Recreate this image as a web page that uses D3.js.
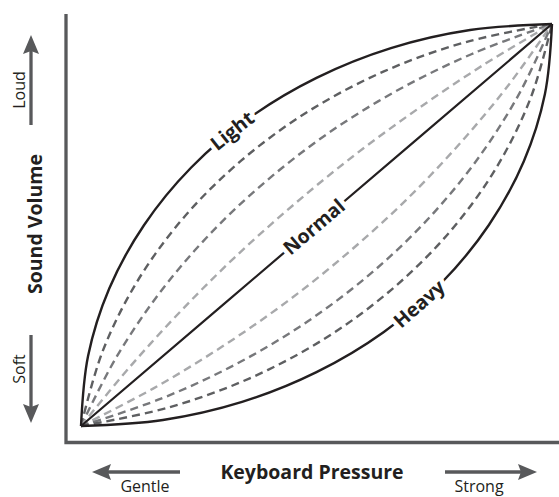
<!DOCTYPE html>
<html>
<head>
<meta charset="utf-8">
<script src="https://cdn.jsdelivr.net/npm/d3@7"></script>
<style>
  body { margin: 0; background: #fff; }
  svg { display: block; }
  text { font-family: "Open Sans", sans-serif; }
</style>
</head>
<body>
<div></div>
<script>
// curve points, both axes run 0..100
var light  = [[0,0],[1.5,17.4],[6.0,34.2],[13.4,50],[23.4,64.3],[35.7,76.6],[50,86.6],[65.8,94.0],[82.6,98.5],[100,100]];
var up1    = [[0,0],[4.5,18.3],[11.8,35.7],[21.7,51.7],[34.0,66.0],[48.3,78.3],[64.3,88.2],[81.7,95.5],[100,100]];
var up2    = [[0,0],[7.3,16.7],[16.3,32.5],[27.0,47.3],[39.2,60.8],[52.7,73.0],[67.5,83.7],[83.3,92.7],[100,100]];
var up3    = [[0,0],[10.3,14.6],[21.2,28.6],[32.6,41.9],[45.1,55.0],[58.1,67.4],[71.4,78.8],[85.4,89.8],[100,100]];
var normal = [[0,0],[50,50],[100,100]];
var lo3    = [[0,0],[15.3,9.3],[29.9,19.7],[43.8,31.0],[56.8,43.2],[69.0,56.2],[80.3,70.1],[90.7,84.7],[100,100]];
var lo2    = [[0,0],[17.0,6.8],[33.1,15.5],[48.1,26.0],[61.8,38.2],[74.0,51.9],[84.5,66.9],[93.2,83.0],[100,100]];
var lo1    = [[0,0],[18.3,4.5],[35.7,11.8],[51.7,21.7],[66.0,34.0],[78.3,48.3],[88.2,64.3],[95.5,81.7],[100,100]];
var heavy  = [[0,0],[17.4,1.5],[34.2,6.0],[50,13.4],[64.3,23.4],[76.6,35.7],[86.6,50],[94.0,65.8],[98.5,82.6],[100,100]];

var curveNames  = ["Light", "up1", "up2", "up3", "Normal", "lo3", "lo2", "lo1", "Heavy"];
var curvePoints = [light, up1, up2, up3, normal, lo3, lo2, lo1, heavy];
var labelNames  = ["Light", "Normal", "Heavy"];
var xTitle = "Keyboard Pressure", yTitle = "Sound Volume";
var xEnds = ["Gentle", "Strong"], yEnds = ["Loud", "Soft"];

// look of each curve
var black = "#231f20", grey = "#58595b";
var style = {
  Light:  {color: black,     dash: null,  w: 2.4},
  up1:    {color: "#5e5f61", dash: "8,5", w: 2.4},
  up2:    {color: "#77787b", dash: "8,5", w: 2.4},
  up3:    {color: "#a8a9ab", dash: "8,5", w: 2.4},
  Normal: {color: black,     dash: null,  w: 2.2},
  lo3:    {color: "#a8a9ab", dash: "8,5", w: 2.4},
  lo2:    {color: "#77787b", dash: "8,5", w: 2.4},
  lo1:    {color: "#5e5f61", dash: "8,5", w: 2.4},
  Heavy:  {color: black,     dash: null,  w: 2.4}
};
// where along each labelled curve its word sits
var labelAt = {Light: 0.5, Normal: 0.495, Heavy: 0.535};

var width = 559, height = 497;

var x = d3.scaleLinear().domain([0, 100]).range([81, 552]);
var y = d3.scaleLinear().domain([0, 100]).range([426, 24]);

var svg = d3.select("body").select("div").append("svg")
    .attr("width", width)
    .attr("height", height);

// axes frame
svg.append("path")
    .attr("d", "M66,14V442.5H559")
    .attr("fill", "none")
    .attr("stroke", grey)
    .attr("stroke-width", 3.3);

var line = d3.line()
    .x(function(d) { return x(d[0]); })
    .y(function(d) { return y(d[1]); })
    .curve(d3.curveCatmullRom.alpha(0.5));

var series = curveNames.map(function(n, i) { return {name: n, pts: curvePoints[i]}; });
// dashed ones underneath, solid on top
series.sort(function(a, b) { return (style[a.name].dash ? 0 : 1) - (style[b.name].dash ? 0 : 1); });

var paths = svg.selectAll("path.curve")
    .data(series)
    .enter().append("path")
    .attr("class", "curve")
    .attr("fill", "none")
    .attr("stroke", function(d) { return style[d.name].color; })
    .attr("stroke-width", function(d) { return style[d.name].w; })
    .attr("stroke-dasharray", function(d) { return style[d.name].dash; })
    .attr("d", function(d) { return line(d.pts); });

// labels sit on their curve, rotated along it
labelNames.forEach(function(name) {
    var node = paths.filter(function(d) { return d.name == name; }).node();
    var L = node.getTotalLength();
    var at = labelAt[name];
    var p = node.getPointAtLength(L * at),
        p1 = node.getPointAtLength(L * at - 2),
        p2 = node.getPointAtLength(L * at + 2);
    var ang = Math.atan2(p2.y - p1.y, p2.x - p1.x) * 180 / Math.PI;
    svg.append("text")
        .attr("transform", "translate(" + p.x + "," + p.y + ") rotate(" + ang + ")")
        .attr("dy", "0.35em")
        .attr("text-anchor", "middle")
        .style("font-size", "19.5px")
        .style("font-weight", 700)
        .style("fill", black)
        .style("stroke", "#fff")
        .style("stroke-width", 9)
        .style("stroke-linejoin", "round")
        .style("paint-order", "stroke")
        .text(name);
});

// arrows
function arrow(x1, y1, x2, y2) {
    var a = Math.atan2(y2 - y1, x2 - x1), hl = 19, hw = 8;
    var bx = x2 - hl * Math.cos(a), by = y2 - hl * Math.sin(a);
    svg.append("line")
        .attr("x1", x1).attr("y1", y1)
        .attr("x2", bx + 3 * Math.cos(a)).attr("y2", by + 3 * Math.sin(a))
        .attr("stroke", grey)
        .attr("stroke-width", 3.3);
    var nx = -Math.sin(a), ny = Math.cos(a);
    svg.append("path")
        .attr("d", "M" + x2 + "," + y2 +
                   "L" + (bx + hw * nx) + "," + (by + hw * ny) +
                   "L" + (bx + 3 * Math.cos(a)) + "," + (by + 3 * Math.sin(a)) +
                   "L" + (bx - hw * nx) + "," + (by - hw * ny) + "Z")
        .attr("fill", grey);
}
arrow(31, 125, 31, 35);
arrow(31, 335, 31, 423);
arrow(180, 472, 92, 472);
arrow(445, 472, 537, 472);

// axis words
svg.append("text")
    .attr("transform", "translate(25,90) rotate(-90)")
    .attr("text-anchor", "middle")
    .style("font-size", "16px")
    .style("fill", black)
    .text(yEnds[0]);
svg.append("text")
    .attr("transform", "translate(25,369) rotate(-90)")
    .attr("text-anchor", "middle")
    .style("font-size", "16px")
    .style("fill", black)
    .text(yEnds[1]);
svg.append("text")
    .attr("transform", "translate(42,224) rotate(-90)")
    .attr("text-anchor", "middle")
    .style("font-size", "19.5px")
    .style("font-weight", 700)
    .style("fill", black)
    .text(yTitle);

svg.append("text")
    .attr("x", 312).attr("y", 479)
    .attr("text-anchor", "middle")
    .style("font-size", "19.5px")
    .style("font-weight", 700)
    .style("fill", black)
    .text(xTitle);
svg.append("text")
    .attr("x", 145).attr("y", 492)
    .attr("text-anchor", "middle")
    .style("font-size", "16px")
    .style("fill", black)
    .text(xEnds[0]);
svg.append("text")
    .attr("x", 479).attr("y", 492)
    .attr("text-anchor", "middle")
    .style("font-size", "16px")
    .style("fill", black)
    .text(xEnds[1]);
</script>
</body>
</html>
